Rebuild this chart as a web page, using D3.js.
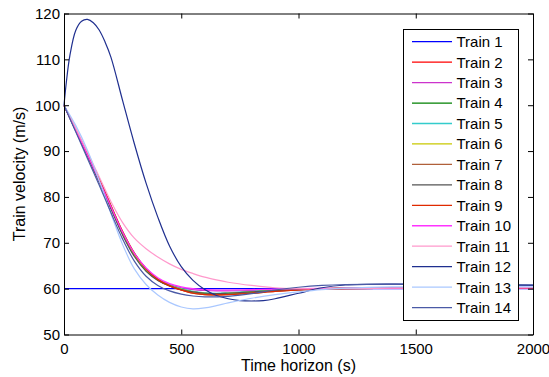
<!DOCTYPE html>
<html><head><meta charset="utf-8">
<script src="https://cdn.jsdelivr.net/npm/d3@7"></script>
<style>
body{margin:0;background:#fff;}
svg{display:block;font-family:"Liberation Sans",Arial,Helvetica,sans-serif;}
</style></head>
<body><svg id="chart" width="549" height="377"></svg>
<script>
// ---------- data ----------
const seriesNames = ["Train 1","Train 2","Train 3","Train 4","Train 5","Train 6","Train 7","Train 8","Train 9","Train 10","Train 11","Train 12","Train 13","Train 14"];
const seriesColors = ["#0000ff","#ff0000","#cc33cc","#008000","#33cccc","#c8c800","#b0603a","#555555","#e02a00","#ff33ff","#ff99cc","#1f2f8f","#aac8ff","#4a5aa6"];
const xTicks = [0,500,1000,1500,2000];
const yTicks = [50,60,70,80,90,100,110,120];

const T  = [0,50,100,150,200,250,300,350,400,450,500,550,600,650,700,800,900,1000,1100,1200,1400,1600,1800,2000];
const T12 = [0,10,25,50,75,100,125,150,175,200,250,300,350,400,450,500,550,600,650,700,750,800,850,900,1000,1100,1200,1400,1600,1800,2000];

const train1  = [60,60,60,60,60,60,60,60,60,60,60,60,60,60,60,60,60,60,60,60,60,60,60,60];
const train2  = [100,94.7,89.3,83.7,77.9,72.2,67.5,64.1,61.9,60.6,59.7,59.1,58.8,58.7,58.8,59.1,59.5,59.8,60.0,60.1,60.1,60.1,60.1,60.1];
const train3  = [100,94.5,89.0,83.4,77.6,71.9,67.3,64.1,62.1,60.9,60.2,59.8,59.6,59.5,59.5,59.6,59.8,59.9,60.0,60.0,60.05,60.05,60.05,60.05];
const train4  = [100,94.6,89.2,83.6,77.8,72.0,67.3,64.0,61.9,60.7,59.9,59.3,59.0,58.9,59.0,59.3,59.6,59.85,60.0,60.05,60.1,60.1,60.1,60.1];
const train5  = [100,94.6,89.2,83.6,77.8,72.1,67.4,64.1,62.0,60.8,60.0,59.4,59.1,59.0,59.1,59.4,59.7,59.9,60.0,60.05,60.1,60.1,60.1,60.1];
const train6  = [100,94.6,89.2,83.6,77.8,72.0,67.4,64.1,62.0,60.7,59.9,59.3,59.0,58.9,59.0,59.3,59.6,59.85,60.0,60.05,60.1,60.1,60.1,60.1];
const train7  = [100,94.8,89.5,84.0,78.2,72.5,67.8,64.4,62.1,60.7,59.7,59.0,58.7,58.6,58.7,59.0,59.4,59.7,59.9,60.0,60.05,60.05,60.05,60.05];
const train8  = [100,94.4,88.9,83.2,77.4,71.7,67.0,63.8,61.8,60.6,59.8,59.3,59.0,58.9,59.0,59.3,59.6,59.8,59.95,60.0,60.05,60.05,60.05,60.05];
const train9  = [100,94.7,89.4,83.9,78.1,72.4,67.7,64.3,62.0,60.6,59.7,59.0,58.7,58.65,58.7,59.0,59.4,59.7,59.9,60.0,60.05,60.05,60.05,60.05];
const train10 = [100,94.6,89.2,83.6,77.9,72.3,67.7,64.5,62.4,61.1,60.4,60.0,59.8,59.7,59.7,59.8,59.9,60.0,60.05,60.1,60.1,60.15,60.15,60.15];
const train11 = [100,95.0,89.8,84.4,79.0,74.4,71.0,68.7,66.9,65.4,64.2,63.3,62.5,61.9,61.4,60.7,60.2,60.0,59.95,60.0,60.1,60.15,60.2,60.2];
const train12 = [100,105.0,110.8,116.3,118.3,118.7,118.0,116.4,113.8,110.5,101.0,91.6,83.0,75.6,69.3,64.8,61.8,59.8,58.5,57.8,57.4,57.3,57.4,57.8,59.0,60.2,60.8,61.0,60.9,60.8,60.7];
const train13 = [100,95.6,90.2,83.6,76.4,69.6,64.3,60.9,58.6,57.0,56.0,55.6,55.8,56.3,56.9,57.9,58.7,59.3,59.8,60.1,60.4,60.45,60.45,60.4];
const train14 = [100,94.2,88.4,82.6,76.6,70.8,66.0,62.7,60.7,59.5,58.8,58.4,58.2,58.2,58.3,58.9,59.7,60.3,60.7,60.9,61.0,60.95,60.9,60.8];

const seriesValues = [train1,train2,train3,train4,train5,train6,train7,train8,train9,train10,train11,train12,train13,train14];
const seriesTimes  = seriesValues.map((v,i)=> i===11 ? T12 : T);

// ---------- layout ----------
const svg = d3.select("#chart");
const L = 64, R = 533, TOP = 13.5, B = 334.5;
const x = d3.scaleLinear().domain([0,2000]).range([L,R]);
const y = d3.scaleLinear().domain([50,120]).range([B,TOP]);

const line = d3.line().x(d=>x(d[0])).y(d=>y(d[1])).curve(d3.curveCatmullRom.alpha(0.5));

const g = svg.append("g");
seriesValues.forEach((vals,i)=>{
  const pts = vals.map((v,j)=>[seriesTimes[i][j], v]);
  g.append("path").attr("d", line(pts)).attr("fill","none")
    .attr("stroke", seriesColors[i]).attr("stroke-width",1.2);
});

// axes
const fs = "15px";
const ax = svg.append("g").attr("transform",`translate(0,${B})`)
  .call(d3.axisBottom(x).tickValues(xTicks).tickSize(-5).tickSizeOuter(0).tickPadding(9).tickFormat(d3.format("d")));
const axT = svg.append("g").attr("transform",`translate(0,${TOP})`)
  .call(d3.axisTop(x).tickValues(xTicks).tickSize(-5).tickSizeOuter(0).tickFormat(""));
const ay = svg.append("g").attr("transform",`translate(${L},0)`)
  .call(d3.axisLeft(y).tickValues(yTicks).tickSize(-5).tickSizeOuter(0).tickPadding(4).tickFormat(d3.format("d")));
const ayR = svg.append("g").attr("transform",`translate(${R},0)`)
  .call(d3.axisRight(y).tickValues(yTicks).tickSize(-5).tickSizeOuter(0).tickFormat(""));
[ax,axT,ay,ayR].forEach(a=>{
  a.selectAll("path.domain").attr("stroke","#000").attr("stroke-width",1);
  a.selectAll(".tick line").attr("stroke","#000").attr("stroke-width",1);
  a.selectAll("text").attr("fill","#000").style("font-size",fs).style("font-family","Liberation Sans, Arial, sans-serif");
});

// axis titles
svg.append("text").attr("x",(L+R)/2).attr("y",370.5).attr("text-anchor","middle")
  .style("font-size","16px").attr("fill","#000").text("Time horizon (s)");
svg.append("text").attr("transform",`translate(25,${(TOP+B)/2}) rotate(-90)`).attr("text-anchor","middle")
  .style("font-size","16px").attr("fill","#000").text("Train velocity (m/s)");

// legend
const lg = svg.append("g");
lg.append("rect").attr("x",403.5).attr("y",29.5).attr("width",115).attr("height",291)
  .attr("fill","#fff").attr("stroke","#000").attr("stroke-width",1);
seriesNames.forEach((n,i)=>{
  const cy = 41.7 + i*20.45;
  lg.append("line").attr("x1",412).attr("x2",452).attr("y1",cy).attr("y2",cy)
    .attr("stroke",seriesColors[i]).attr("stroke-width",1.3);
  lg.append("text").attr("x",456.5).attr("y",cy+5.4).style("font-size","15px")
    .attr("fill","#000").text(n);
});
</script>
</body></html>
